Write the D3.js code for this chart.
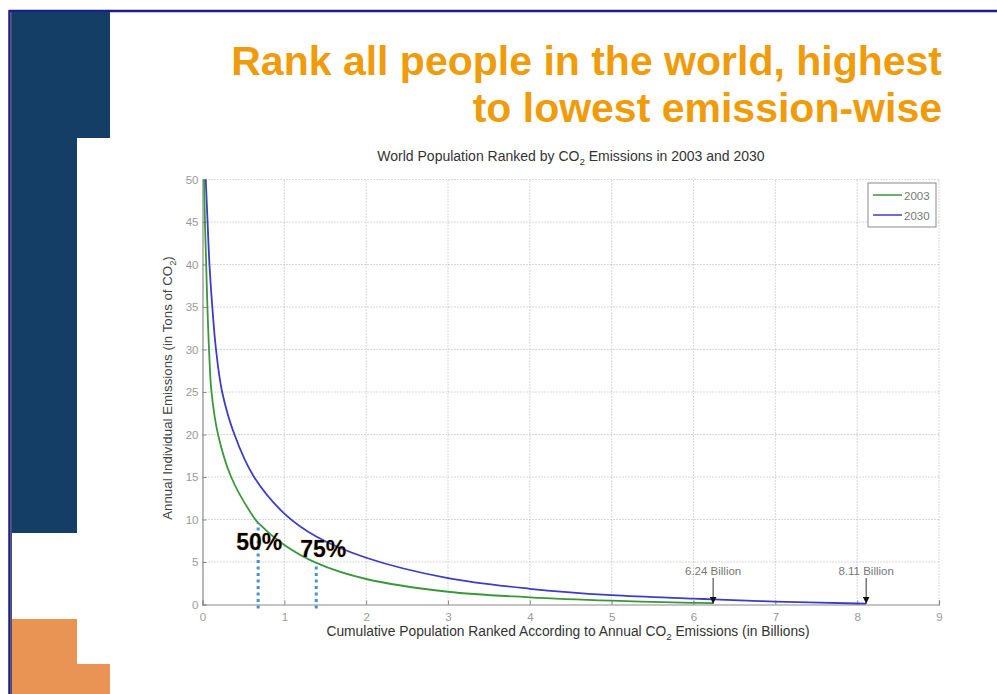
<!DOCTYPE html>
<html>
<head>
<meta charset="utf-8">
<script src="https://cdn.jsdelivr.net/npm/d3@7"></script>
<style>
  html, body { margin: 0; padding: 0; background: #fff; }
  svg { display: block; font-family: "Liberation Sans", Arial, Helvetica, sans-serif; }
</style>
</head>
<body>
<svg id="chart" width="997" height="694"></svg>
<script>
// Cumulative population (billions) and per-person emissions (t CO2), ranked high to low
const pop2003 = [0.02, 0.03, 0.045, 0.06, 0.08, 0.11, 0.19, 0.35, 0.63, 0.68, 1.0, 1.39, 2.0, 3.0, 4.0, 5.0, 6.0, 6.24];
const em2003  = [50,   45,   40,    35,   30,   25,   20,   15,   10.2, 9.6,  7.0, 4.9, 3.0, 1.5, 0.85, 0.45, 0.2, 0.15];
const pop2030 = [0.04, 0.062, 0.085, 0.12, 0.165, 0.24, 0.39, 0.63, 1.0, 1.39, 2.0, 3.0, 4.0, 5.0, 6.0, 6.24, 7.0, 8.0, 8.11];
const em2030  = [50,   45,    40,    35,   30,    25,   20,   15,   10.7, 8.0, 5.5, 3.1, 1.85, 1.1, 0.7, 0.6, 0.35, 0.12, 0.1];

const seriesNames = ["2003", "2030"];
const xTicks = [0, 1, 2, 3, 4, 5, 6, 7, 8, 9];
const yTicks = [0, 5, 10, 15, 20, 25, 30, 35, 40, 45, 50];

// Share-of-population markers on the 2003 curve
const shareLabels = ["50%", "75%"];
const sharePop    = [0.68, 1.39];
const shareEm     = [9.6, 4.9];

// Total-population call-outs
const totalLabels = ["6.24 Billion", "8.11 Billion"];
const totalPop    = [6.24, 8.11];

const svg = d3.select("#chart");

// ---- slide decoration ----
svg.append("line").attr("x1", 9).attr("x2", 997).attr("y1", 11).attr("y2", 11)
  .attr("stroke", "#1c1c8a").attr("stroke-width", 2.5);
svg.append("line").attr("x1", 9.5).attr("x2", 9.5).attr("y1", 10).attr("y2", 694)
  .attr("stroke", "#1c1c8a").attr("stroke-width", 2.5);
svg.append("line").attr("x1", 11.5).attr("x2", 11.5).attr("y1", 12).attr("y2", 694)
  .attr("stroke", "#222").attr("stroke-width", 0.8);

svg.append("path")
  .attr("d", "M12,12 H110 V138 H77 V533 H12 Z")
  .attr("fill", "#143e66");
svg.append("path")
  .attr("d", "M12,619 H77 V664 H110 V694 H12 Z")
  .attr("fill", "#e99355");

// ---- slide title ----
const titleLines = ["Rank all people in the world, highest", "to lowest emission-wise"];
svg.append("g").selectAll("text").data(titleLines).join("text")
  .attr("x", 942).attr("y", (d, i) => 75 + i * 47)
  .attr("text-anchor", "end")
  .attr("font-size", 41).attr("font-weight", "bold")
  .attr("fill", "#ef9c0c")
  .text(d => d);

// ---- plot frame ----
const x = d3.scaleLinear().domain([0, 9]).range([202.5, 939]);
const y = d3.scaleLinear().domain([0, 50]).range([604.5, 179.5]);

// grid
const grid = svg.append("g").attr("stroke", "#b0b0b0").attr("stroke-width", 1)
  .attr("stroke-dasharray", "1,2");
grid.selectAll("line.gx").data(xTicks.slice(1)).join("line")
  .attr("x1", d => x(d)).attr("x2", d => x(d)).attr("y1", y(0)).attr("y2", y(50));
grid.selectAll("line.gy").data(yTicks.slice(1)).join("line")
  .attr("x1", x(0)).attr("x2", x(9)).attr("y1", d => y(d)).attr("y2", d => y(d));

// axes
const xAxis = d3.axisBottom(x).tickValues(xTicks).tickSize(-4).tickPadding(8).tickFormat(d3.format("d"));
const yAxis = d3.axisLeft(y).tickValues(yTicks).tickSize(-4).tickPadding(4).tickFormat(d3.format("d"));

const gx = svg.append("g").attr("transform", `translate(0,${y(0)})`).call(xAxis);
const gy = svg.append("g").attr("transform", `translate(${x(0)},0)`).call(yAxis);
[gx, gy].forEach(g => {
  g.select(".domain").attr("stroke", "#8a8a8a").attr("stroke-width", 1.2);
  g.selectAll(".tick line").attr("stroke", "#8a8a8a");
  g.selectAll(".tick text").attr("fill", "#999").attr("font-size", 11.5)
    .attr("font-family", "Liberation Sans, Arial, sans-serif");
});

// ---- curves ----
const line = d3.line().x(d => x(d[0])).y(d => y(d[1])).curve(d3.curveCatmullRom.alpha(0.5));
const colors = ["#3a973a", "#3c3cc8"];
const data2003 = pop2003.map((p, i) => [p, em2003[i]]);
const data2030 = pop2030.map((p, i) => [p, em2030[i]]);

svg.append("path").datum(data2030).attr("d", line)
  .attr("fill", "none").attr("stroke", colors[1]).attr("stroke-width", 1.8);
svg.append("path").datum(data2003).attr("d", line)
  .attr("fill", "none").attr("stroke", colors[0]).attr("stroke-width", 1.8);

// ---- share markers ----
svg.append("g").selectAll("line").data(sharePop).join("line")
  .attr("x1", d => x(d)).attr("x2", d => x(d))
  .attr("y1", y(0) + 4).attr("y2", (d, i) => y(shareEm[i]))
  .attr("stroke", "#4a8fd6").attr("stroke-width", 3).attr("stroke-dasharray", "3,3.5");

const shareOffsets = [[-22, 27], [-16, -6]];
svg.append("g").selectAll("text").data(shareLabels).join("text")
  .attr("x", (d, i) => x(sharePop[i]) + shareOffsets[i][0])
  .attr("y", (d, i) => y(shareEm[i]) + shareOffsets[i][1])
  .attr("font-size", 23).attr("font-weight", "bold").attr("fill", "#000")
  .style("paint-order", "stroke").attr("stroke", "rgba(230,150,60,0.35)").attr("stroke-width", 1.2)
  .text(d => d);

// ---- total population call-outs ----
svg.append("defs").append("marker")
  .attr("id", "arrowHead").attr("viewBox", "0 0 10 10")
  .attr("refX", 10).attr("refY", 5).attr("markerWidth", 7).attr("markerHeight", 7)
  .attr("orient", "auto")
  .append("path").attr("d", "M0,0 L10,5 L0,10 Z").attr("fill", "#111");

const callouts = svg.append("g");
callouts.selectAll("line").data(totalPop).join("line")
  .attr("x1", d => x(d)).attr("x2", d => x(d))
  .attr("y1", 578).attr("y2", y(0.1))
  .attr("stroke", "#333").attr("stroke-width", 1)
  .attr("marker-end", "url(#arrowHead)");
callouts.selectAll("text").data(totalLabels).join("text")
  .attr("x", (d, i) => x(totalPop[i]))
  .attr("y", 575)
  .attr("text-anchor", "middle")
  .attr("font-size", 11.5).attr("fill", "#777")
  .text(d => d);

// ---- legend ----
const legend = svg.append("g").attr("transform", "translate(868,183)");
legend.append("rect").attr("width", 68).attr("height", 44)
  .attr("fill", "#fff").attr("stroke", "#8a8a8a").attr("stroke-width", 1);
legend.selectAll("line").data(seriesNames).join("line")
  .attr("x1", 5).attr("x2", 34).attr("y1", (d, i) => 12 + i * 20).attr("y2", (d, i) => 12 + i * 20)
  .attr("stroke", (d, i) => colors[i]).attr("stroke-width", 1.5);
legend.selectAll("text").data(seriesNames).join("text")
  .attr("x", 36).attr("y", (d, i) => 16.5 + i * 20)
  .attr("font-size", 11.5).attr("fill", "#777")
  .text(d => d);

// ---- titles with CO2 subscript ----
function co2Text(sel, before, after) {
  sel.append("tspan").text(before + "CO");
  sel.append("tspan").attr("font-size", "0.7em").attr("dy", 4).text("2");
  sel.append("tspan").attr("dy", -4).text(after);
}

const chartTitle = svg.append("text")
  .attr("x", 571).attr("y", 161).attr("text-anchor", "middle")
  .attr("font-size", 14).attr("fill", "#333");
co2Text(chartTitle, "World Population Ranked by ", " Emissions in 2003 and 2030");

const xTitle = svg.append("text")
  .attr("x", 568).attr("y", 636).attr("text-anchor", "middle")
  .attr("font-size", 13.8).attr("fill", "#333");
co2Text(xTitle, "Cumulative Population Ranked According to Annual ", " Emissions (in Billions)");

const yTitle = svg.append("text")
  .attr("transform", "translate(172,388) rotate(-90)").attr("text-anchor", "middle")
  .attr("font-size", 13.3).attr("fill", "#444");
co2Text(yTitle, "Annual Individual Emissions (in Tons of ", ")");
</script>
</body>
</html>
